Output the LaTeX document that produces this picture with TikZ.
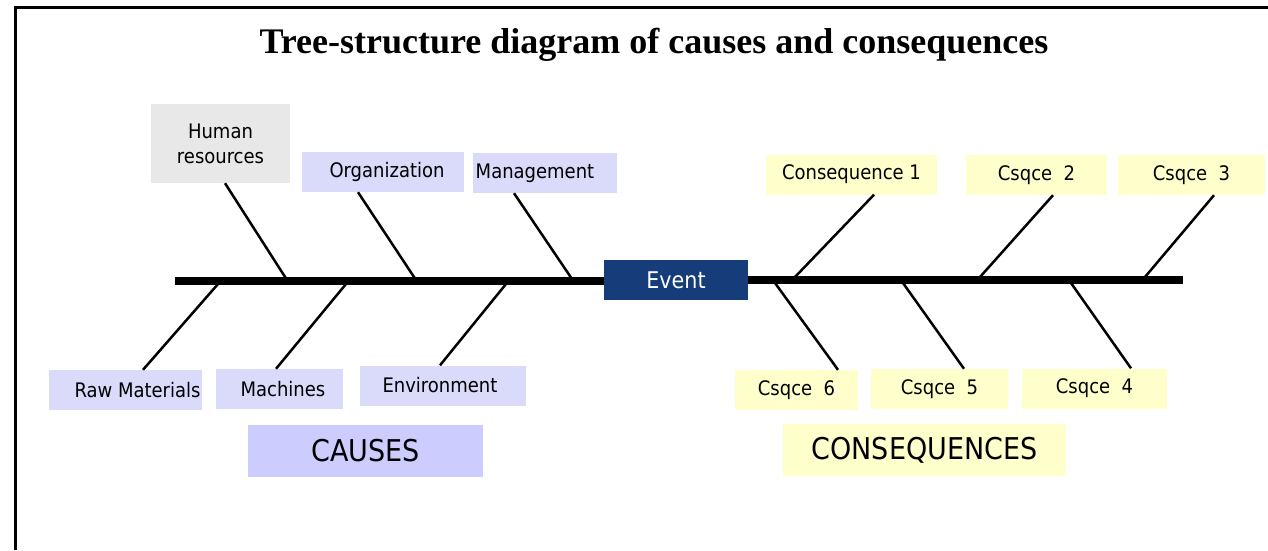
\documentclass[tikz,border=0pt]{standalone}
\usepackage{fontspec}
\setmainfont{Liberation Serif}
\newfontfamily\boxfont{DejaVu Sans Condensed}
\usetikzlibrary{arrows,shapes}
\definecolor{causeblue}{RGB}{218,218,250}
\definecolor{causehead}{RGB}{204,204,255}
\definecolor{humgray}{RGB}{232,232,232}
\definecolor{csqyellow}{RGB}{255,255,204}
\definecolor{eventblue}{RGB}{22,60,122}
\tikzstyle{cause}=[fill=causeblue,minimum height=40pt,inner sep=0pt,font=\boxfont\fontsize{20}{25}\selectfont]
\tikzstyle{csq}=[cause,fill=csqyellow]
\tikzstyle{heading}=[inner sep=0pt,minimum height=52pt,font=\boxfont\fontsize{30}{36}\selectfont]
\tikzstyle{bone} = [draw,line width=2.5pt,-]
\tikzstyle{spine} = [draw,line width=8pt,-]

\begin{document}
\begin{tikzpicture}[x=1pt,y=-1pt]
    \useasboundingbox (0,0) rectangle (1268,550);
    % Frame and title
    \draw[line width=3pt] (15,550) -- (15,7) -- (1268,7);
    \node (title) at (654,45) {\bfseries\fontsize{36}{40}\selectfont Tree-structure diagram of causes and consequences};

    % First we draw the boxes of the causes
    \node[cause,fill=humgray,minimum width=139pt,minimum height=79pt,align=center] (hum) at (220.5,143.5) {Human\\resources};
    \foreach \pos/\name/\w/\off/\txt in {{(383,172)/org/162/8/Organization}, {(545,173)/mgt/144/-20/Management}, {(125.5,390)/raw/153/24/Raw Materials}, {(279.5,389)/mach/127/7/Machines}, {(443,385.5)/env/166/-6/Environment}}
        \node[cause,minimum width=\w pt] (\name) at \pos {\hspace*{\off pt}\txt};

    % then the boxes of the consequences
    \foreach \pos/\name/\w/\txt in {{(851.5,174.5)/csq1/171/Consequence 1}, {(1036.5,175)/csq2/141/Csqce\ \ 2}, {(1191.5,175)/csq3/147/Csqce\ \ 3}, {(796.5,390)/csq6/123/Csqce\ \ 6}, {(939.5,389)/csq5/137/Csqce\ \ 5}, {(1094.5,388.5)/csq4/145/Csqce\ \ 4}}
        \node[csq,minimum width=\w pt] (\name) at \pos {\txt};

    \node[cause,fill=eventblue,text=white,minimum width=144pt,font=\boxfont\fontsize{23}{26}\selectfont] (event) at (676,280) {Event};
    \node[heading,fill=causehead,minimum width=235pt] (causes) at (365.5,451) {CAUSES};
    \node[heading,fill=csqyellow,minimum width=283pt] (consq) at (924.5,450) {CONSEQUENCES};

    % Points where the bones meet the spine
    \foreach \pos/\name in {{(175,281)/sl}, {(1183,280)/sr}, {(287,280)/phum}, {(416,280)/porg}, {(572,279)/pmgt}, {(218,284)/praw}, {(346,284)/pmach}, {(506,284)/penv}, {(795,277)/p1}, {(980,277)/p2}, {(1145,277)/p3}, {(775,283)/p6}, {(903,283)/p5}, {(1071,283)/p4}}
        \path \pos coordinate (\name);

    % Bones
    \foreach \source/\dx/\dest in {hum/4.5/phum, org/-25/porg, mgt/-31/pmgt, csq1/22.5/p1, csq2/16.5/p2, csq3/22.5/p3}
        \path[bone] ([xshift=\dx pt]\source.south) -- (\dest);
    \foreach \source/\dx/\dest in {raw/17.5/praw, mach/-3.5/pmach, env/-3/penv, csq6/41.5/p6, csq5/24.5/p5, csq4/36.5/p4}
        \path[bone] ([xshift=\dx pt]\source.north) -- (\dest);

    % Spine
    \path[spine] (sl) -- (sl -| event.west);
    \path[spine] (event.east |- sr) -- (sr);
\end{tikzpicture}
\end{document}
